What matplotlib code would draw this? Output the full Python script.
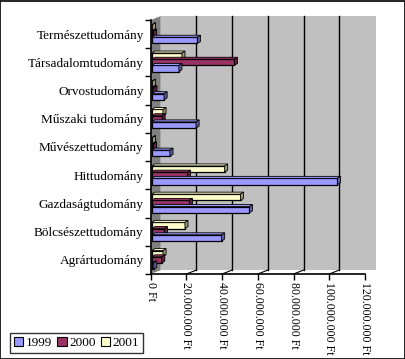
import matplotlib
matplotlib.use("Agg")
import matplotlib.pyplot as plt
from matplotlib.patches import Polygon, Rectangle, Patch
from matplotlib.ticker import FuncFormatter

plt.rcParams['font.family'] = ['Liberation Serif', 'DejaVu Serif']

# kategoriak alulrol felfele
categories = ["Agrártudomány", "Bölcsészettudomány", "Gazdaságtudomány",
              "Hittudomány", "Művészettudomány", "Műszaki tudomány",
              "Orvostudomány", "Társadalomtudomány", "Természettudomány"]
years = ["1999", "2000", "2001"]
v1999 = [1.1e6, 39.1e6, 54.7e6, 104.0e6, 10.2e6, 24.8e6, 6.9e6, 15.2e6, 25.6e6]
v2000 = [5.6e6, 7.1e6, 21.1e6, 20.0e6, 1.0e6, 5.8e6, 1.2e6, 46.3e6, 1.0e6]
v2001 = [6.3e6, 18.6e6, 49.7e6, 40.8e6, 0.4e6, 6.3e6, 0.4e6, 16.9e6, 0.4e6]
x_ticks = [0, 20e6, 40e6, 60e6, 80e6, 100e6, 120e6]

colors = ['#9999ff', '#993366', '#ffffcc']
side_colors = ['#5c5c99', '#5c1f3d', '#99997a']

fig = plt.figure(figsize=(4.06, 3.59), dpi=100)
fig.patches.append(Rectangle((0.001, 0.001), 0.997, 0.996, transform=fig.transFigure,
                             fill=False, edgecolor='black', lw=1.2))
ax = fig.add_axes([150.7 / 406, 1 - 274 / 359, 214.3 / 406, 254 / 359])
ax.set_xlim(0, 120e6)
ax.set_ylim(-0.5, 8.5)
ax.set_facecolor('none')

# 3D hatas: hatso fal, oldalfal
off_x = 5.6e6
off_y = 0.14
ax.add_patch(Polygon([(off_x, -0.5 + off_y), (off_x, 8.5 + off_y),
                      (126e6, 8.5 + off_y), (126e6, -0.5 + off_y)],
                     closed=True, facecolor='#c0c0c0', edgecolor='none',
                     clip_on=False, zorder=0))
ax.add_patch(Polygon([(0, -0.5), (0, 8.5), (off_x, 8.5 + off_y), (off_x, -0.5 + off_y)],
                     closed=True, facecolor='#808080', edgecolor='none',
                     clip_on=False, zorder=0.5))
for t in x_ticks[1:-1]:
    ax.plot([t + off_x, t + off_x], [-0.5 + off_y, 8.5 + off_y], color='black',
            lw=1, clip_on=False, zorder=1)
    ax.plot([t, t + off_x], [-0.5, -0.5 + off_y], color='black', lw=0.8,
            clip_on=False, zorder=1)

h = 0.22
dx = 1.7e6
dy = 0.07
offsets = [-0.22, 0, 0.22]
series = [v1999, v2000, v2001]
for k in [2, 1, 0]:
    for i, v in enumerate(series[k]):
        y = i + offsets[k]
        ax.barh(y, v, height=h, left=0.6e6, color=colors[k], edgecolor='black',
                lw=0.9, zorder=3)
        top = [(0.6e6, y + h / 2), (0.6e6 + v, y + h / 2),
               (0.6e6 + v + dx, y + h / 2 + dy), (0.6e6 + dx, y + h / 2 + dy)]
        side = [(0.6e6 + v, y - h / 2), (0.6e6 + v + dx, y - h / 2 + dy),
                (0.6e6 + v + dx, y + h / 2 + dy), (0.6e6 + v, y + h / 2)]
        ax.add_patch(Polygon(top, closed=True, facecolor=colors[k], edgecolor='black',
                             lw=0.6, zorder=3, clip_on=False))
        ax.add_patch(Polygon(side, closed=True, facecolor=side_colors[k],
                             edgecolor='black', lw=0.6, zorder=3, clip_on=False))

ax.set_yticks(range(len(categories)))
ax.set_yticklabels(categories, fontsize=9.5)
ax.set_yticks([i - 0.5 for i in range(len(categories) + 1)], minor=True)
ax.tick_params(axis='y', which='major', length=0, pad=5)
ax.tick_params(axis='y', which='minor', length=4, direction='out', width=1)

ax.set_xticks(x_ticks)
ax.xaxis.set_major_formatter(FuncFormatter(lambda v, p: f"{int(v):,}".replace(",", ".") + " Ft"))
ax.tick_params(axis='x', length=4, direction='out', width=1, labelsize=8.5,
               labelrotation=270, pad=2)
for lab in ax.get_xticklabels():
    lab.set_verticalalignment('top')
    lab.set_horizontalalignment('center')

for s in ['top', 'right']:
    ax.spines[s].set_visible(False)
for s in ['left', 'bottom']:
    ax.spines[s].set_linewidth(1.2)
    ax.spines[s].set_zorder(4)

handles = [Patch(facecolor=c, edgecolor='black', lw=0.8) for c in colors]
leg = fig.legend(handles, years, loc='lower left', bbox_to_anchor=(10 / 406, 6 / 359),
                 ncol=3, fontsize=9.5, frameon=True, fancybox=False, edgecolor='black',
                 handlelength=0.7, handleheight=0.7, handletextpad=0.2,
                 columnspacing=0.4, borderpad=0.3, borderaxespad=0)
leg.get_frame().set_linewidth(1)

fig.savefig("out.png", dpi=100)
